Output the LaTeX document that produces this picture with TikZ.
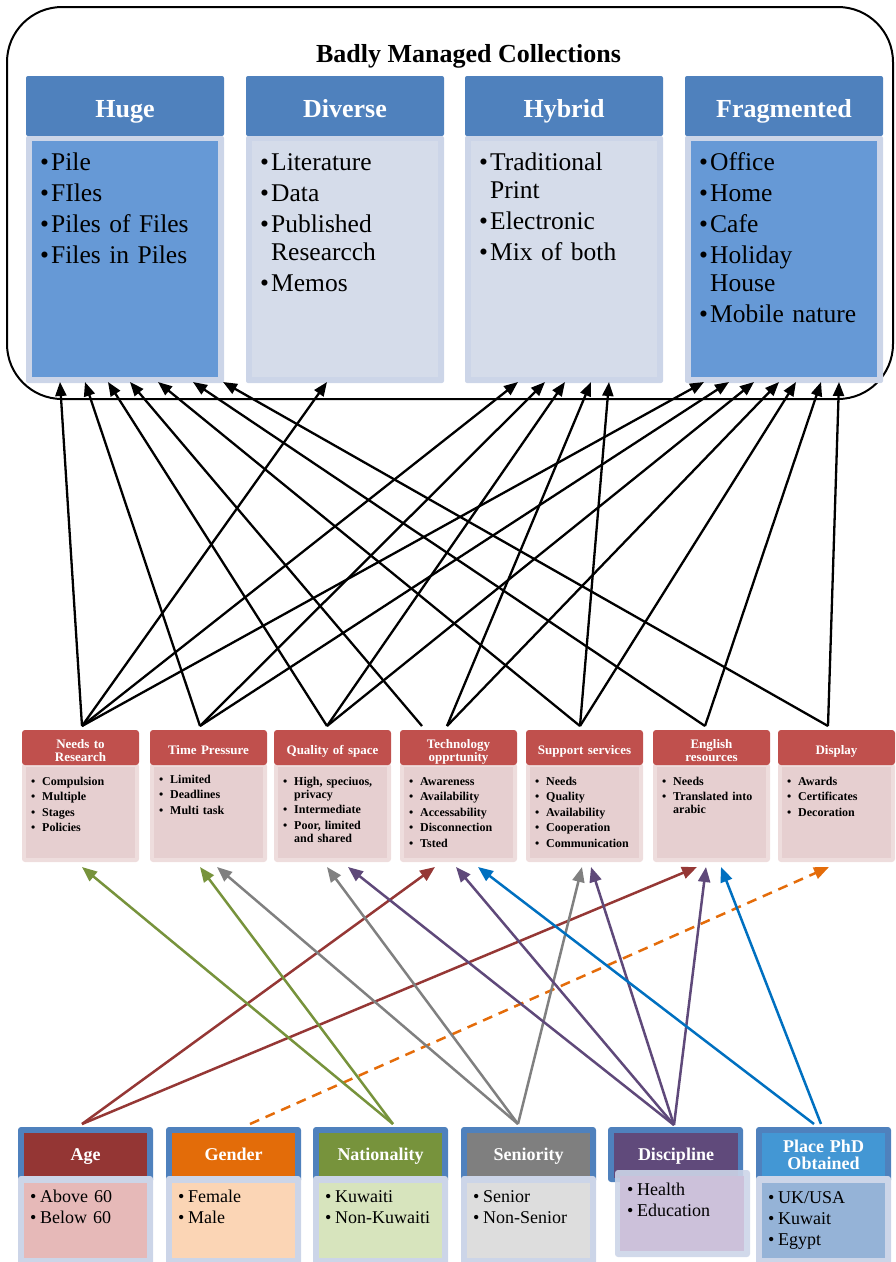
\documentclass[tikz,border=0pt]{standalone}
\usepackage{fontspec}
\setmainfont{Liberation Serif}
\usetikzlibrary{arrows.meta}

\definecolor{hdrblue}{HTML}{4F81BD}
\definecolor{bodyblue}{HTML}{6699D6}
\definecolor{bodylight}{HTML}{D5DCEA}
\definecolor{bodyedge}{HTML}{CCD5E8}
\definecolor{midred}{HTML}{C0504D}
\definecolor{midbody}{HTML}{E6CFD0}
\definecolor{midedge}{HTML}{EEDDDD}
\definecolor{agec}{HTML}{943634}
\definecolor{agebody}{HTML}{E6B9B8}
\definecolor{genc}{HTML}{E36C09}
\definecolor{genbody}{HTML}{FBD5B5}
\definecolor{natc}{HTML}{77933C}
\definecolor{natbody}{HTML}{D7E4BD}
\definecolor{senc}{HTML}{7F7F7F}
\definecolor{senbody}{HTML}{DDDDDD}
\definecolor{disc}{HTML}{604A7B}
\definecolor{disbody}{HTML}{CCC1DA}
\definecolor{phdc}{HTML}{4397D4}
\definecolor{phdbody}{HTML}{95B3D7}
\definecolor{arrblue}{HTML}{0070C0}
\definecolor{arrred}{HTML}{953735}
\definecolor{arrorange}{HTML}{E46C0A}
\definecolor{arrpurple}{HTML}{5F497A}
\definecolor{arrgray}{HTML}{808080}
\definecolor{arrgreen}{HTML}{77933C}

\newlength\bulo
\newlength\buli
\newif\iffirstbul
\newcommand\bitem[1]{\iffirstbul\global\firstbulfalse\else\par\fi
  \hangindent=\buli\hangafter=1\noindent\hbox to\buli{\hskip\bulo\textbullet\hfil}#1}

\tikzset{
  box/.style={rectangle, inner sep=0pt, outer sep=0pt, anchor=north west, draw=none},
  tophdr/.style={box, fill=hdrblue, rounded corners=2pt, minimum width=198pt, minimum height=60pt},
  topedge/.style={box, fill=bodyedge, rounded corners=2pt, minimum width=198pt, minimum height=247pt},
  topfill/.style={box, fill=#1, minimum width=186pt, minimum height=236pt},
  toptitle/.style={anchor=base, inner sep=0pt, text=white, font=\bfseries\fontsize{26}{30}\selectfont},
  topbody/.style={anchor=base west, inner sep=0pt, text width=198pt, font=\fontsize{25.5}{28}\selectfont,
    execute at begin node={\global\firstbultrue\setlength\parskip{3pt}\setlength\bulo{14pt}\setlength\buli{25pt}\raggedright}},
  midhdr/.style={box, fill=midred, rounded corners=3pt, minimum width=117pt, minimum height=35pt},
  midedgeS/.style={box, fill=midedge, rounded corners=3pt, minimum width=117pt, minimum height=99pt},
  midfillS/.style={box, fill=midbody, minimum width=109pt, minimum height=91pt},
  midtitle/.style={anchor=base, inner sep=0pt, text width=117pt, align=center, text=white,
    font=\bfseries\fontsize{13}{13}\selectfont},
  midbodyT/.style={anchor=base west, inner sep=0pt, text width=117pt, font=\bfseries\fontsize{12}{13.3}\selectfont,
    execute at begin node={\global\firstbultrue\setlength\parskip{2.2pt}\setlength\bulo{9pt}\setlength\buli{20pt}\raggedright}},
  bothdrout/.style={box, fill=hdrblue, rounded corners=3pt, minimum width=135pt, minimum height=56pt},
  bothdrin/.style={box, fill=#1, minimum width=123pt, minimum height=45pt},
  botedge/.style={box, fill=bodyedge, rounded corners=3pt, minimum width=135pt, minimum height=95pt},
  botfill/.style={box, fill=#1, minimum width=123pt, minimum height=75pt},
  bottitle/.style={anchor=base, inner sep=0pt, text width=135pt, align=center, text=white,
    font=\bfseries\fontsize{18}{17}\selectfont},
  botbodyT/.style={anchor=base west, inner sep=0pt, text width=135pt, font=\fontsize{18}{21.3}\selectfont,
    execute at begin node={\global\firstbultrue\setlength\parskip{0pt}\setlength\bulo{12pt}\setlength\buli{22pt}\raggedright}},
  blk/.style={draw=black, line width=2.3pt, -{Triangle[length=14pt,width=11pt]}},
  carr/.style={draw=#1, line width=2.5pt, -{Triangle[length=15pt,width=12pt]}},
}

\newcommand\topbox[4]{%
  \node[tophdr] (#1h) at (#2,76) {};
  \node[topedge] (#1b) at (#2,136) {};
  \node[topfill=#3] (#1f) at (#2+6,141) {};
  \node[toptitle] (#1t) at (#2+99,117) {#4};
}
\newcommand\midbox[4]{%
  \node[midedgeS] (#1b) at (#2,763) {};
  \node[midfillS] (#1f) at (#2+4,767) {};
  \node[midhdr] (#1h) at (#2,730) {};
  \node[midtitle] (#1t) at (#2+58.5,#3) {#4};
}

\begin{document}
\begin{tikzpicture}[x=1pt,y=-1pt]
\useasboundingbox (0,0) rectangle (896,1262);

% ---------- top container ----------
\draw[line width=2pt, rounded corners=55pt] (7,7) rectangle (893,399);
\node[anchor=base, inner sep=0pt, font=\bfseries\fontsize{26}{30}\selectfont] (title) at (468.5,62) {Badly Managed Collections};

\topbox{huge}{26}{bodyblue}{Huge}
\topbox{div}{246}{bodylight}{Diverse}
\topbox{hyb}{465}{bodylight}{Hybrid}
\topbox{frag}{685}{bodyblue}{Fragmented}

\node[topbody] (hugeL) at (26,170) {\bitem{Pile}\bitem{FIles}\bitem{Piles of Files}\bitem{Files in Piles}\par};
\node[topbody] (divL) at (246,170) {\bitem{Literature}\bitem{Data}\bitem{Published\newline Researcch}\bitem{Memos}\par};
\node[topbody] (hybL) at (465,170) {\bitem{Traditional\newline Print}\bitem{Electronic}\bitem{Mix of both}\par};
\node[topbody] (fragL) at (685,170) {\bitem{Office}\bitem{Home}\bitem{Cafe}\bitem{Holiday\newline House}\bitem{Mobile nature}\par};

% ---------- middle boxes ----------
\midbox{need}{22}{748}{Needs to\\Research}
\midbox{time}{150}{754.5}{Time Pressure}
\midbox{qual}{274}{754.5}{Quality of space}
\midbox{tech}{400}{748}{Technology\\opprtunity}
\midbox{supp}{526}{754.5}{Support services}
\midbox{engl}{653}{748}{English\\resources}
\midbox{disp}{778}{754.5}{Display}

\node[midbodyT] (needL) at (22,785) {\bitem{Compulsion}\bitem{Multiple}\bitem{Stages}\bitem{Policies}\par};
\node[midbodyT] (timeL) at (150,783) {\bitem{Limited}\bitem{Deadlines}\bitem{Multi task}\par};
\node[midbodyT] (qualL) at (274,785) {\bitem{High, speciuos,\newline privacy}\bitem{Intermediate}\bitem{Poor, limited\newline and shared}\par};
\node[midbodyT] (techL) at (400,785) {\bitem{Awareness}\bitem{Availability}\bitem{Accessability}\bitem{Disconnection}\bitem{Tsted}\par};
\node[midbodyT] (suppL) at (526,785) {\bitem{Needs}\bitem{Quality}\bitem{Availability}\bitem{Cooperation}\bitem{Communication}\par};
\node[midbodyT] (englL) at (653,785) {\bitem{Needs}\bitem{Translated into\newline arabic}\par};
\node[midbodyT] (dispL) at (778,785) {\bitem{Awards}\bitem{Certificates}\bitem{Decoration}\par};

% ---------- bottom boxes ----------
\node[bothdrout] (ageo) at (18,1127) {};
\node[bothdrin=agec] (ageh) at (24,1133) {};
\node[botedge] (ageb) at (18,1176) {};
\node[botfill=agebody] (agef) at (24,1183) {};
\node[bottitle] (aget) at (85.5,1160) {Age};
\node[botbodyT] (ageL) at (18,1202) {\bitem{Above 60}\bitem{Below 60}\par};

\node[bothdrout] (geno) at (166,1127) {};
\node[bothdrin=genc] (genh) at (172,1133) {};
\node[botedge] (genb) at (166,1176) {};
\node[botfill=genbody] (genf) at (172,1183) {};
\node[bottitle] (gent) at (233.5,1160) {Gender};
\node[botbodyT] (genL) at (166,1202) {\bitem{Female}\bitem{Male}\par};

\node[bothdrout] (nato) at (313,1127) {};
\node[bothdrin=natc] (nath) at (319,1133) {};
\node[botedge] (natb) at (313,1176) {};
\node[botfill=natbody] (natf) at (319,1183) {};
\node[bottitle] (natt) at (380.5,1160) {Nationality};
\node[botbodyT] (natL) at (313,1202) {\bitem{Kuwaiti}\bitem{Non-Kuwaiti}\par};

\node[bothdrout] (seno) at (461,1127) {};
\node[bothdrin=senc] (senh) at (467,1133) {};
\node[botedge] (senb) at (461,1176) {};
\node[botfill=senbody] (senf) at (467,1183) {};
\node[bottitle] (sent) at (528.5,1160) {Seniority};
\node[botbodyT] (senL) at (461,1202) {\bitem{Senior}\bitem{Non-Senior}\par};

\node[bothdrout, minimum height=55pt] (diso) at (608,1127) {};
\node[bothdrin=disc, minimum width=124pt] (dish) at (614,1133) {};
\node[botedge, minimum height=87pt, fill opacity=0.9] (disb) at (615,1170) {};
\node[botfill=disbody, minimum width=124pt] (disf) at (620,1176) {};
\node[bottitle] (dist) at (676,1160) {Discipline};
\node[botbodyT] (disL) at (615,1195) {\bitem{Health}\bitem{Education}\par};

\node[bothdrout] (phdo) at (756,1127) {};
\node[bothdrin=phdc] (phdh) at (762,1133) {};
\node[botedge] (phdb) at (756,1176) {};
\node[botfill=phdbody] (phdf) at (762,1183) {};
\node[bottitle] (phdt) at (823.5,1152) {Place PhD\\Obtained};
\node[botbodyT] (phdL) at (756,1203) {\bitem{UK/USA}\bitem{Kuwait}\bitem{Egypt}\par};

% ---------- connector end points ----------
\coordinate (s1) at (82,726);
\coordinate (s2) at (200,726);
\coordinate (s3) at (327,726);
\coordinate (s4a) at (422,726);
\coordinate (s4b) at (447,726);
\coordinate (s5) at (580,726);
\coordinate (s6) at (705,726);
\coordinate (s7) at (828,726);

\coordinate (h1) at (60,382);
\coordinate (h2) at (85,382);
\coordinate (h3) at (108,382);
\coordinate (h4) at (130,382);
\coordinate (h5) at (158,382);
\coordinate (h6) at (193,382);
\coordinate (h7) at (223,382);
\coordinate (d1) at (327,382);
\coordinate (y1) at (518,382);
\coordinate (y2) at (545,382);
\coordinate (y3) at (565,382);
\coordinate (y4) at (591,382);
\coordinate (y5) at (609,382);
\coordinate (f1) at (704,382);
\coordinate (f2) at (729,382);
\coordinate (f3) at (754,382);
\coordinate (f4) at (779,382);
\coordinate (f5) at (796,382);
\coordinate (f6) at (821,382);
\coordinate (f7) at (839,382);

% black arrows to the collections
\draw[blk] (s1) -- (h1);
\draw[blk] (s1) -- (d1);
\draw[blk] (s1) -- (y1);
\draw[blk] (s1) -- (f1);
\draw[blk] (s2) -- (h2);
\draw[blk] (s2) -- (y2);
\draw[blk] (s2) -- (f2);
\draw[blk] (s3) -- (h3);
\draw[blk] (s3) -- (y3);
\draw[blk] (s3) -- (f3);
\draw[blk] (s4a) -- (h4);
\draw[blk] (s4b) -- (y4);
\draw[blk] (s4b) -- (f4);
\draw[blk] (s5) -- (h5);
\draw[blk] (s5) -- (y5);
\draw[blk] (s5) -- (f5);
\draw[blk] (s6) -- (h6);
\draw[blk] (s6) -- (f6);
\draw[blk] (s7) -- (h7);
\draw[blk] (s7) -- (f7);

% coloured arrows from demographics
\coordinate (pAge) at (82,1124);
\coordinate (pGen) at (250,1124);
\coordinate (pNat) at (393,1124);
\coordinate (pSen) at (518,1124);
\coordinate (pDis) at (674,1125);
\coordinate (pPhdA) at (814,1124);
\coordinate (pPhdB) at (821,1124);

\coordinate (mNeed) at (82,867);
\coordinate (mTimeA) at (200,867);
\coordinate (mTimeB) at (217,867);
\coordinate (mQualA) at (327,867);
\coordinate (mQualB) at (348,867);
\coordinate (mTechA) at (435,867);
\coordinate (mTechB) at (456,867);
\coordinate (mTechC) at (478,867);
\coordinate (mSuppA) at (582,867);
\coordinate (mSuppB) at (591,867);
\coordinate (mEnglA) at (697,867);
\coordinate (mEnglB) at (706,867);
\coordinate (mEnglC) at (721,867);
\coordinate (mDisp) at (829,867);

\draw[carr=arrred] (pAge) -- (mTechA);
\draw[carr=arrred] (pAge) -- (mEnglA);
\draw[carr=arrorange, dash pattern=on 10pt off 7pt] (pGen) -- (mDisp);
\draw[carr=arrgreen] (pNat) -- (mNeed);
\draw[carr=arrgreen] (pNat) -- (mTimeA);
\draw[carr=arrgray] (pSen) -- (mTimeB);
\draw[carr=arrgray] (pSen) -- (mQualA);
\draw[carr=arrgray] (pSen) -- (mSuppA);
\draw[carr=arrpurple] (pDis) -- (mQualB);
\draw[carr=arrpurple] (pDis) -- (mTechB);
\draw[carr=arrpurple] (pDis) -- (mSuppB);
\draw[carr=arrpurple] (pDis) -- (mEnglB);
\draw[carr=arrblue] (pPhdA) -- (mTechC);
\draw[carr=arrblue] (pPhdB) -- (mEnglC);
\end{tikzpicture}
\end{document}
